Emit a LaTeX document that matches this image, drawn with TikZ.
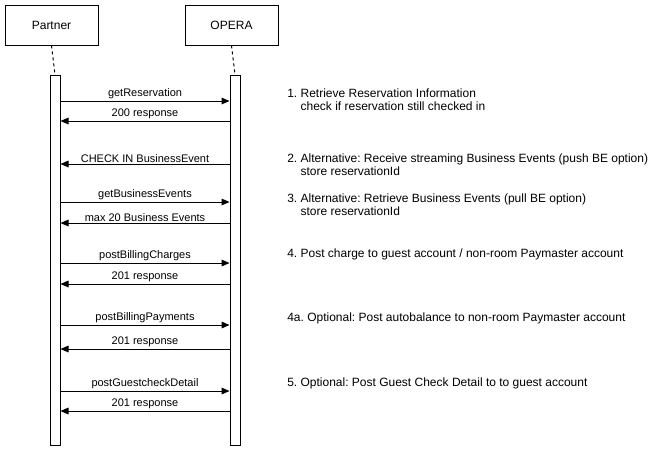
\documentclass[tikz,border=0pt]{standalone}
\usepackage{fontspec}
\setmainfont{Liberation Sans}
\usetikzlibrary{arrows.meta}
\begin{document}
\frenchspacing
\begin{tikzpicture}[x=0.75pt,y=-0.75pt,
  every node/.style={font=\fontsize{8.25pt}{9.75pt}\selectfont},
  actor/.style={draw, line width=0.75pt, minimum width=69.75pt, minimum height=30pt, inner sep=0pt, font=\fontsize{9pt}{10.5pt}\selectfont},
  bar/.style={draw, line width=0.75pt, fill=white, minimum width=7.5pt, minimum height=277.5pt, inner sep=0pt},
  life/.style={line width=0.75pt, dash pattern=on 2.25pt off 2.25pt},
  msg/.style={line width=0.75pt, -{Triangle[length=6pt,width=5pt]}},
  lbl/.style={midway, above, inner sep=0pt, yshift=1pt},
  note/.style={anchor=west, align=left, inner sep=0pt, font=\fontsize{9pt}{9.75pt}\selectfont}
]
\useasboundingbox (0,0) rectangle (671,451);
\node[actor] (pa) at (51.5,25) {Partner};
\node[actor] (op) at (231.5,25) {OPERA};
\node[bar] (pbar) at (55,260) {};
\node[bar] (obar) at (235,260) {};
\draw[life] (pa.south) -- (pbar.north);
\draw[life] (op.south) -- (obar.north);

\draw[msg] (pbar.east |- 0,101) -- (obar.west |- 0,101) node[lbl] {getReservation};
\draw[msg] (obar.west |- 0,121) -- (pbar.east |- 0,121) node[lbl] {200 response};
\draw[msg] (obar.west |- 0,164) -- (pbar.east |- 0,164) node[lbl] {CHECK IN BusinessEvent};
\draw[msg] (pbar.east |- 0,202) -- (obar.west |- 0,202) node[lbl] {getBusinessEvents};
\draw[msg] (obar.west |- 0,223) -- (pbar.east |- 0,223) node[lbl] {max 20 Business Events};
\draw[msg] (pbar.east |- 0,263) -- (obar.west |- 0,263) node[lbl] {postBillingCharges};
\draw[msg] (obar.west |- 0,284) -- (pbar.east |- 0,284) node[lbl] {201 response};
\draw[msg] (pbar.east |- 0,325) -- (obar.west |- 0,325) node[lbl] {postBillingPayments};
\draw[msg] (obar.west |- 0,349) -- (pbar.east |- 0,349) node[lbl] {201 response};
\draw[msg] (pbar.east |- 0,391) -- (obar.west |- 0,391) node[lbl] {postGuestcheckDetail};
\draw[msg] (obar.west |- 0,411) -- (pbar.east |- 0,411) node[lbl] {201 response};

\node[note] (n1) at (287,99.7) {1. Retrieve Reservation Information\\\hphantom{1.}\ check if reservation still checked in};
\node[note] (n2) at (287,164.5) {2. Alternative: Receive streaming Business Events (push BE option)\\\hphantom{2.}\ store reservationId};
\node[note] (n3) at (287,205) {3. Alternative: Retrieve Business Events (pull BE option)\\\hphantom{3.}\ store reservationId};
\node[note] (n4) at (287,254) {4. Post charge to guest account / non-room Paymaster account};
\node[note] (n4a) at (287,318) {4a. Optional: Post autobalance to non-room Paymaster account};
\node[note] (n5) at (287,383) {5. Optional: Post Guest Check Detail to to guest account};
\end{tikzpicture}
\end{document}
